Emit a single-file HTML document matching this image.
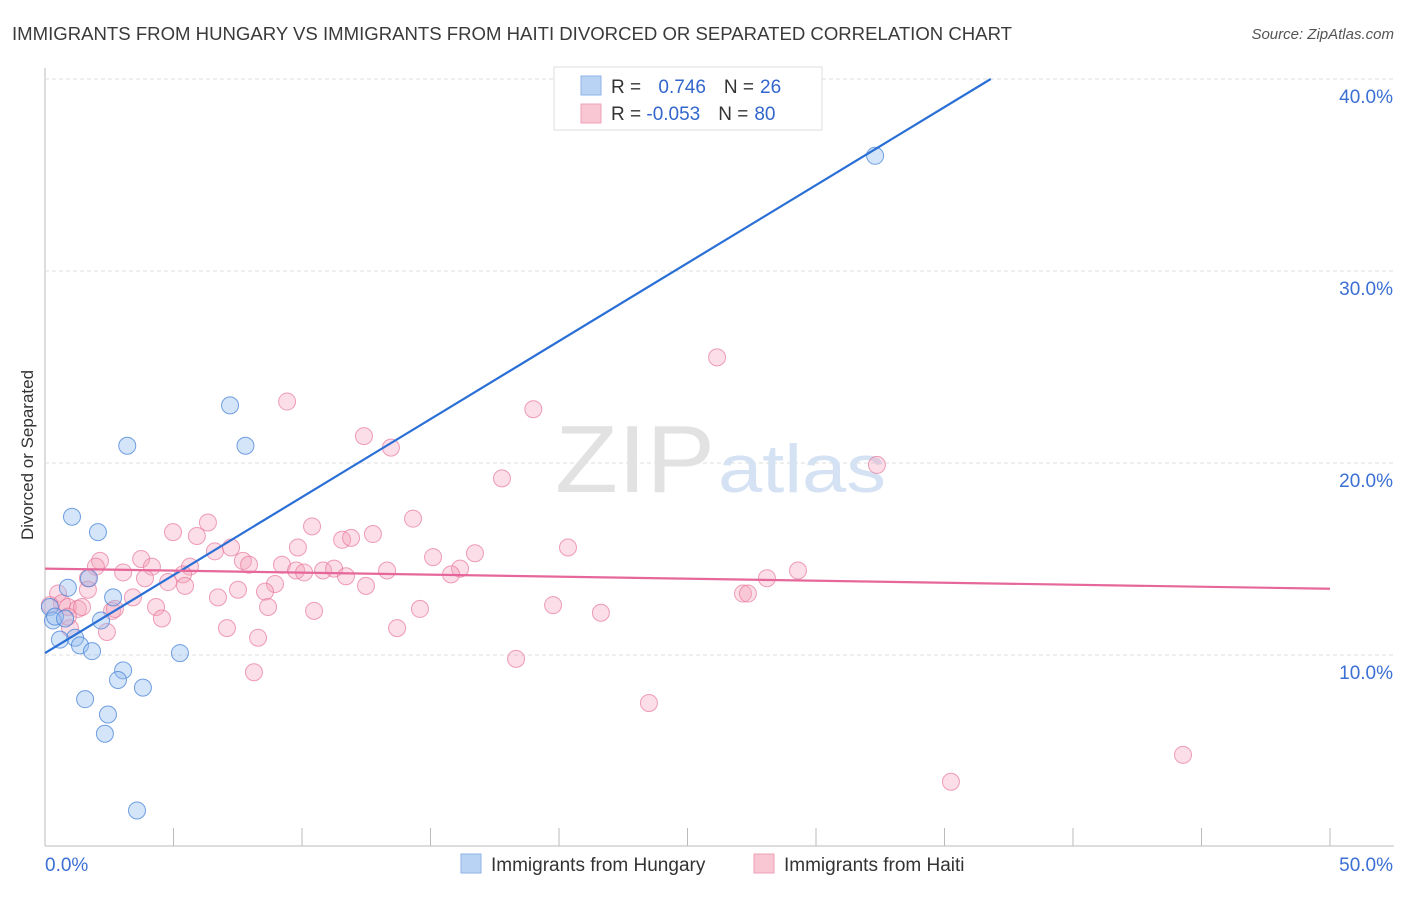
<!DOCTYPE html>
<html><head><meta charset="utf-8"><style>
body{margin:0;background:#fff;font-family:"Liberation Sans",sans-serif;}
svg text{font-family:"Liberation Sans",sans-serif;}
</style></head><body>
<svg id="chart" width="1406" height="892">
<text x="12" y="40" font-size="18" fill="#3a3a3a" textLength="1000" lengthAdjust="spacingAndGlyphs">IMMIGRANTS FROM HUNGARY VS IMMIGRANTS FROM HAITI DIVORCED OR SEPARATED CORRELATION CHART</text>
<text x="1394" y="39" font-size="15" font-style="italic" fill="#555" text-anchor="end">Source: ZipAtlas.com</text>
<text transform="translate(33,455) rotate(-90)" font-size="17" fill="#333" text-anchor="middle">Divorced or Separated</text>
<g id="grid"></g>
<text x="555" y="492" font-size="96" font-family="Liberation Serif" fill="#e2e2e2" textLength="160" lengthAdjust="spacingAndGlyphs">ZIP</text>
<text x="718" y="492" font-size="68" fill="#d4e2f4" textLength="168" lengthAdjust="spacingAndGlyphs">atlas</text>
<g id="points"></g>
<g id="lines"></g>
<g>
<rect x="554" y="67" width="268" height="63" fill="#fff" stroke="#ddd"/>
<rect x="581" y="76" width="20" height="19" fill="#b8d3f4" stroke="#8fb3e6"/>
<rect x="581" y="104" width="20" height="19" fill="#f9c6d4" stroke="#eea0b6"/>
<text x="611" y="93" font-size="19" fill="#333">R = <tspan fill="#3366cc" dx="12">0.746</tspan><tspan fill="#333" dx="18">N =</tspan><tspan fill="#3366cc" dx="6">26</tspan></text>
<text x="611" y="120" font-size="19" fill="#333">R = <tspan fill="#3366cc">-0.053</tspan><tspan fill="#333" dx="18">N =</tspan><tspan fill="#3366cc" dx="6">80</tspan></text>
</g>
<g>
<rect x="461" y="854" width="20" height="19" fill="#b8d3f4" stroke="#8fb3e6"/>
<text x="491" y="871" font-size="19" fill="#333">Immigrants from Hungary</text>
<rect x="754" y="854" width="20" height="19" fill="#f9c6d4" stroke="#eea0b6"/>
<text x="784" y="871" font-size="19" fill="#333">Immigrants from Haiti</text>
</g>
</svg>
<script>
const hungaryX=[32.3,7.2,3.2,7.8,1.05,2.06,1.71,0.89,2.65,0.19,0.31,0.39,0.78,2.18,1.17,0.58,1.36,1.83,5.25,3.04,2.84,3.81,1.56,2.45,2.33,3.58];
const hungaryY=[36.0,23.0,20.9,20.9,17.2,16.4,14.0,13.5,13.0,12.5,11.8,12.0,11.9,11.8,10.9,10.8,10.5,10.2,10.1,9.2,8.7,8.3,7.7,6.9,5.9,1.9];
const haitiX=[26.15,9.42,19.0,12.41,13.46,32.37,17.78,14.32,6.34,10.39,4.98,5.91,11.56,11.91,12.76,20.35,9.84,7.24,6.61,15.1,16.73,2.14,3.74,7.7,7.94,1.98,4.16,9.22,16.15,5.64,3.04,3.89,5.37,9.77,10.08,10.82,11.25,11.71,13.31,15.8,28.09,29.3,1.67,4.79,5.45,8.95,12.49,8.56,7.51,6.73,3.42,0.51,1.67,0.66,0.19,0.89,1.28,2.61,4.32,8.68,10.47,14.59,19.77,21.63,27.16,27.35,2.72,4.55,1.44,7.08,13.7,0.97,2.41,8.29,18.33,8.13,23.5,35.25,44.28,0.89];
const haitiY=[25.5,23.2,22.8,21.4,20.8,19.9,19.2,17.1,16.9,16.7,16.4,16.2,16.0,16.1,16.3,15.6,15.6,15.6,15.4,15.1,15.3,14.9,15.0,14.9,14.7,14.6,14.6,14.7,14.5,14.6,14.3,14.0,14.2,14.4,14.3,14.4,14.5,14.1,14.4,14.2,14.0,14.4,14.0,13.8,13.6,13.7,13.6,13.3,13.4,13.0,13.0,13.2,13.4,12.7,12.6,12.5,12.4,12.3,12.5,12.5,12.3,12.4,12.6,12.2,13.2,13.2,12.4,11.9,12.5,11.4,11.4,11.4,11.2,10.9,9.8,9.1,7.5,3.4,4.8,12.0];
const yTicks=[10,20,30,40];
const xTickLabels=["0.0%","50.0%"];
const hungaryLine=[0,10.1,36.8,40];
const haitiLine=[0,14.5,50,13.45];
const X=v=>45+v*25.7, Y=v=>847-v*19.2;
const NS="http://www.w3.org/2000/svg";
function mk(tag,attrs,parent){const e=document.createElementNS(NS,tag);for(const k in attrs)e.setAttribute(k,attrs[k]);parent.appendChild(e);return e;}
const grid=document.getElementById('grid');
let ax=mk('line',{x1:45,y1:68,x2:45,y2:846,stroke:'#bbb'},grid);


let bx=mk('line',{x1:45,y1:846,x2:1394,y2:846,stroke:'#bbb'},grid);


yTicks.forEach(t=>{
 const g=mk('line',{x1:45,y1:Y(t),x2:1394,y2:Y(t),stroke:'#ddd','stroke-dasharray':'4,3'},grid);
 
 
 const l=mk('text',{x:1393,y:Y(t)+24,'font-size':19,fill:'#3b6fd4','text-anchor':'end'},grid);
 l.textContent=t.toFixed(1)+'%';
 
 
});
for(let i=0;i<=10;i++){
 const tk=mk('line',{x1:X(i*5),y1:828,x2:X(i*5),y2:846,stroke:'#bbb'},grid);
 
 
}
[[45,'start',0],[1393,'end',1]].forEach(([x,a,i])=>{
 const l=mk('text',{x:x,y:871,'font-size':19,fill:'#3b6fd4','text-anchor':a},grid);
 l.textContent=xTickLabels[i];
 
 
});
const pts=document.getElementById('points');
haitiX.forEach((x,i)=>{
 const c=mk('circle',{cx:X(x),cy:Y(haitiY[i]),r:8.5,fill:'rgba(244,160,185,0.35)',stroke:'rgba(232,120,155,0.7)','stroke-width':1},pts);
 
 
});
hungaryX.forEach((x,i)=>{
 const c=mk('circle',{cx:X(x),cy:Y(hungaryY[i]),r:8.5,fill:'rgba(150,190,240,0.4)',stroke:'rgba(70,130,215,0.75)','stroke-width':1},pts);
 
 
});
const ln=document.getElementById('lines');
let a=mk('line',{x1:X(hungaryLine[0]),y1:Y(hungaryLine[1]),x2:X(hungaryLine[2]),y2:Y(hungaryLine[3]),stroke:'#2a6fd6','stroke-width':2.2},ln);


let b=mk('line',{x1:X(haitiLine[0]),y1:Y(haitiLine[1]),x2:X(haitiLine[2]),y2:Y(haitiLine[3]),stroke:'#e6679a','stroke-width':2.2},ln);


</script>
</body></html>
